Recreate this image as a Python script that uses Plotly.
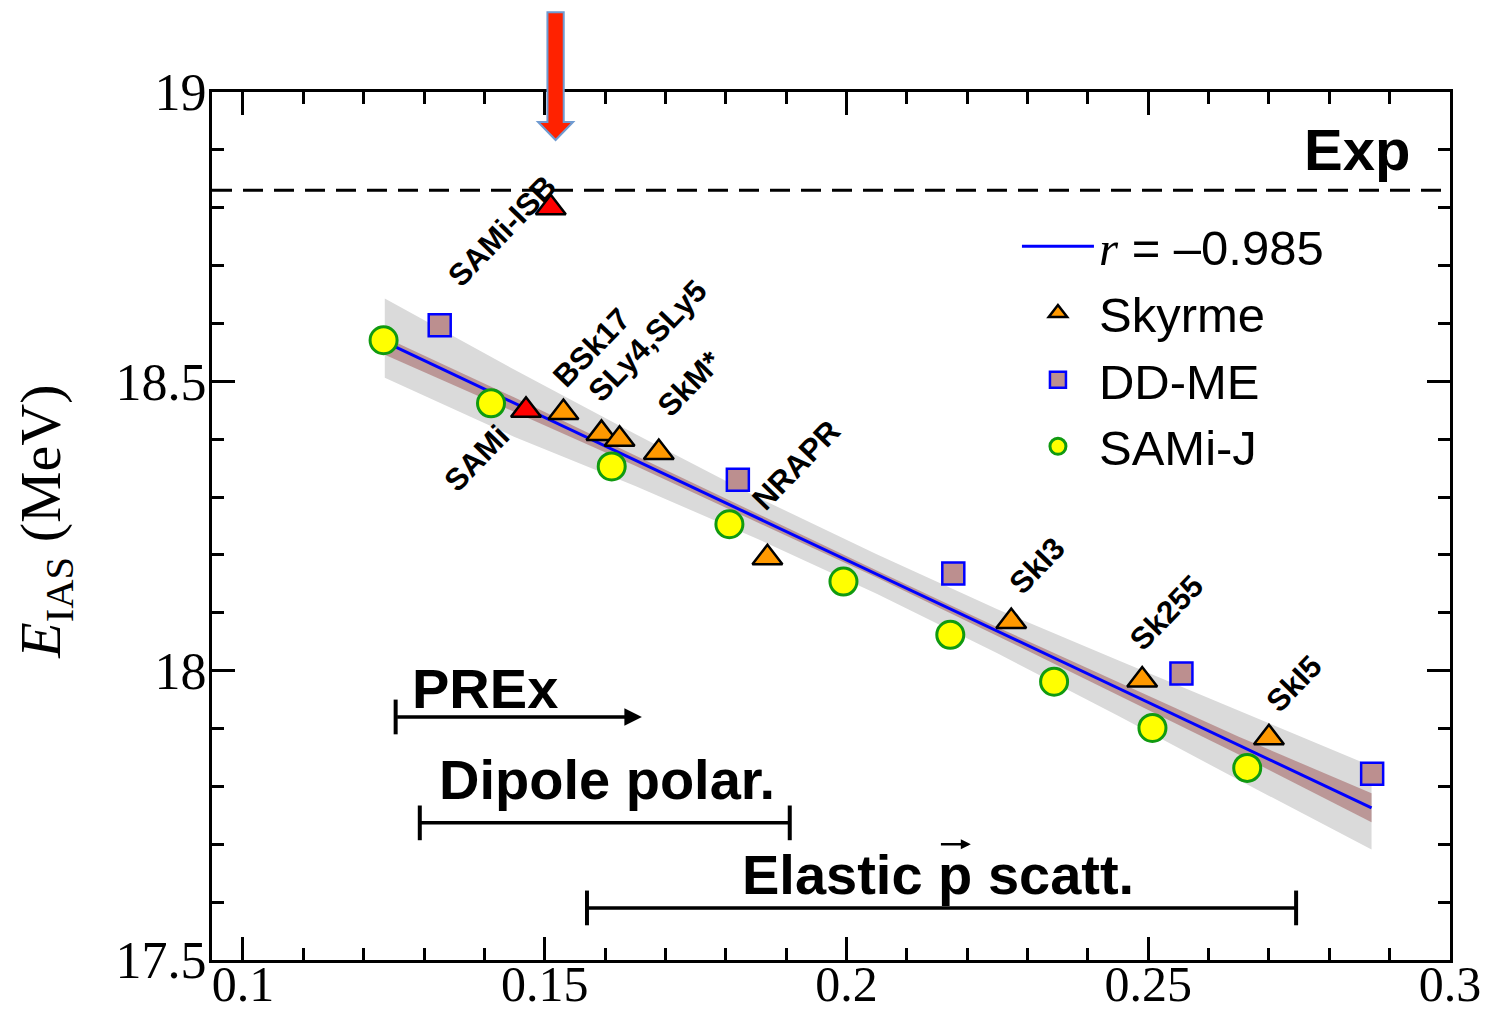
import plotly.graph_objects as go

# ---------------- data ----------------
skyrme_names = ["BSk17", "SLy4", "SLy5", "SkM*", "NRAPR", "SkI3", "Sk255", "SkI5", "SAMi", "SAMi-ISB"]
skyrme_x = [0.1531, 0.1594, 0.1624, 0.1689, 0.1869, 0.2273, 0.2490, 0.2700, 0.1469, 0.1510]
skyrme_y = [18.446, 18.410, 18.400, 18.377, 18.195, 18.085, 17.984, 17.884, 18.450, 18.800]
highlighted = ["SAMi-ISB", "SAMi"]

ddme_x = [0.1326, 0.1820, 0.2177, 0.2555, 0.2871]
ddme_y = [18.597, 18.330, 18.168, 17.995, 17.822]

samij_x = [0.1233, 0.1411, 0.1611, 0.1806, 0.1995, 0.2172, 0.2344, 0.2507, 0.2664]
samij_y = [18.571, 18.462, 18.353, 18.253, 18.154, 18.062, 17.981, 17.901, 17.832]

fit_x = [0.1235, 0.2870]
fit_y = [18.568, 17.763]

band_x = [0.1235, 0.145, 0.165, 0.185, 0.205, 0.225, 0.245, 0.265, 0.287]
gray_upper = [18.643, 18.520, 18.409, 18.301, 18.201, 18.106, 18.018, 17.931, 17.835]
gray_lower = [18.506, 18.404, 18.319, 18.229, 18.133, 18.030, 17.922, 17.811, 17.691]
brown_upper = [18.576, 18.472, 18.372, 18.272, 18.173, 18.075, 17.980, 17.886, 17.788]
brown_lower = [18.546, 18.447, 18.354, 18.258, 18.161, 18.060, 17.958, 17.855, 17.738]

exp_value = 18.83

range_names = ["PREx", "Dipole polar.", "Elastic p scatt."]
range_start = [0.1253, 0.1293, 0.1570]
range_end = [0.1661, 0.1906, 0.2745]
range_level = [17.920, 17.737, 17.590]
range_open = [True, False, False]

x_ticks = [0.1, 0.15, 0.2, 0.25, 0.3]
x_ticklabels = ["0.1", "0.15", "0.2", "0.25", "0.3"]
y_ticks = [17.5, 18, 18.5, 19]
y_ticklabels = ["17.5", "18", "18.5", "19"]

# label placement (centre of rotated text) for the named Skyrme points
label_pos = {
    "SAMi-ISB": (0.1430, 18.761),
    "SAMi": (0.1387, 18.367),
    "BSk17": (0.1578, 18.559),
    "SLy4,SLy5": (0.1671, 18.571),
    "SkM*": (0.1740, 18.497),
    "NRAPR": (0.1916, 18.355),
    "SkI3": (0.2316, 18.182),
    "Sk255": (0.2531, 18.100),
    "SkI5": (0.2742, 17.978),
}

SANS = "Liberation Sans, Arial, sans-serif"
SERIF = "Liberation Serif, Times New Roman, serif"

fig = go.Figure()

# gray band
fig.add_trace(go.Scatter(
    x=band_x + band_x[::-1], y=gray_upper + gray_lower[::-1],
    fill="toself", fillcolor="rgb(218,218,218)", line=dict(width=0),
    mode="lines", showlegend=False, hoverinfo="skip"))
# brown band
fig.add_trace(go.Scatter(
    x=band_x + band_x[::-1], y=brown_upper + brown_lower[::-1],
    fill="toself", fillcolor="rgba(176,128,128,0.75)", line=dict(width=0),
    mode="lines", showlegend=False, hoverinfo="skip"))
# fit line
fig.add_trace(go.Scatter(
    x=fit_x, y=fit_y, mode="lines", line=dict(color="#0000ff", width=3),
    name="<span style='font-family:Liberation Serif'><i>r</i></span> = \u20130.985",
    legendrank=1))

sky_colors = ["#ff0000" if n in highlighted else "#ff9900" for n in skyrme_names]
fig.add_trace(go.Scatter(
    x=skyrme_x, y=skyrme_y, mode="markers", name="Skyrme",
    marker=dict(symbol="triangle-up", size=26, color=sky_colors,
                line=dict(color="black", width=2.5)),
    legendrank=2))
fig.add_trace(go.Scatter(
    x=ddme_x, y=ddme_y, mode="markers", name="DD-ME",
    marker=dict(symbol="square", size=22, color="#bc8f8f",
                line=dict(color="#0000ff", width=2.5)),
    legendrank=3))
fig.add_trace(go.Scatter(
    x=samij_x, y=samij_y, mode="markers", name="SAMi-J",
    marker=dict(symbol="circle", size=27, color="#ffff00",
                line=dict(color="#109a10", width=3)),
    legendrank=4))

annotations = []
for lab, (lx, ly) in label_pos.items():
    annotations.append(dict(x=lx, y=ly, xref="x", yref="y", text="<b>%s</b>" % lab,
                            showarrow=False, textangle=-46,
                            font=dict(family=SANS, size=31, color="black")))

# Exp line and label
shapes = [dict(type="line", xref="paper", yref="y", x0=0, x1=1, y0=exp_value, y1=exp_value,
               line=dict(color="black", width=3, dash="20px,11px"))]
annotations.append(dict(x=0.2846, y=18.90, xref="x", yref="y", text="<b>Exp</b>",
                        showarrow=False, font=dict(family=SANS, size=58, color="black")))

# range bars
tick_half = 0.030
label_offset = [0.050, 0.075, 0.058]
label_x = [0.1401, 0.1603, 0.2152]
for name, xs, xe, yl, op, lo, lxp in zip(range_names, range_start, range_end, range_level,
                                         range_open, label_offset, label_x):
    shapes.append(dict(type="line", xref="x", yref="y", x0=xs, x1=xs,
                       y0=yl - tick_half, y1=yl + tick_half, line=dict(color="black", width=4)))
    if op:
        annotations.append(dict(x=xe, y=yl, ax=xs, ay=yl, xref="x", yref="y",
                                axref="x", ayref="y", text="", showarrow=True,
                                arrowhead=2, arrowsize=1, arrowwidth=3.5, arrowcolor="black"))
    else:
        shapes.append(dict(type="line", xref="x", yref="y", x0=xs, x1=xe,
                           y0=yl, y1=yl, line=dict(color="black", width=3.5)))
        shapes.append(dict(type="line", xref="x", yref="y", x0=xe, x1=xe,
                           y0=yl - tick_half, y1=yl + tick_half, line=dict(color="black", width=4)))
    annotations.append(dict(x=lxp, y=yl + lo, xref="x", yref="y", text="<b>%s</b>" % name,
                            showarrow=False, font=dict(family=SANS, size=56, color="black")))

# vector arrow over the "p" of "Elastic p scatt."
p_x, p_y, p_half = 0.2180, 17.700, 0.0026
annotations.append(dict(x=p_x + p_half, y=p_y, ax=p_x - p_half, ay=p_y, xref="x", yref="y",
                        axref="x", ayref="y", text="", showarrow=True,
                        arrowhead=2, arrowsize=0.8, arrowwidth=2.5, arrowcolor="black"))

# red arrow above the SAMi-ISB point
ax0 = 0.1518
hw, hh = 0.00135, 0.0029
y_top, y_neck, y_tip = 1.092, 0.9654, 0.9447
path = ("M {a},{t} L {b},{t} L {b},{n} L {c},{n} L {x},{p} L {d},{n} L {a},{n} Z"
        .format(a=ax0 - hw, b=ax0 + hw, c=ax0 + hh, d=ax0 - hh, x=ax0,
                t=y_top, n=y_neck, p=y_tip))
shapes.append(dict(type="path", xref="x", yref="paper", path=path,
                   fillcolor="#ff2200", line=dict(color="#6f9bd1", width=2)))

# y title
annotations.append(dict(x=-0.1349, y=0.505, xref="paper", yref="paper",
                        xanchor="center", yanchor="middle",
                        text="<i>E</i><sub>IAS</sub> (MeV)", textangle=-90, showarrow=False,
                        font=dict(family=SERIF, size=58, color="black")))

fig.update_layout(
    template="none",
    width=1486, height=1009,
    margin=dict(l=204, r=44, t=84, b=57, autoexpand=False),
    paper_bgcolor="white", plot_bgcolor="white",
    showlegend=True,
    legend=dict(x=0.6502, y=0.8665, xanchor="left", yanchor="top",
                font=dict(family=SANS, size=49, color="black"),
                bgcolor="rgba(0,0,0,0)", tracegroupgap=0, itemsizing="trace",
                itemwidth=72),
    shapes=shapes, annotations=annotations,
)
fig.update_xaxes(range=[0.09487, 0.3], tickvals=x_ticks, ticktext=x_ticklabels,
                 automargin=False, ticklabelstandoff=-22,
                 ticks="inside", ticklen=23, tickwidth=2.5, tickcolor="black",
                 minor=dict(dtick=0.01, tick0=0.1, ticks="inside", ticklen=12,
                            tickwidth=2.5, tickcolor="black"),
                 showline=True, linecolor="black", linewidth=3, mirror="ticks",
                 showgrid=False, zeroline=False,
                 tickfont=dict(family=SERIF, size=50, color="black"))
fig.update_yaxes(range=[17.5, 19], tickvals=y_ticks, ticktext=y_ticklabels,
                 automargin=False, ticklabelstandoff=-8,
                 ticks="inside", ticklen=23, tickwidth=2.5, tickcolor="black",
                 minor=dict(dtick=0.1, tick0=17.5, ticks="inside", ticklen=12,
                            tickwidth=2.5, tickcolor="black"),
                 showline=True, linecolor="black", linewidth=3, mirror="ticks",
                 showgrid=False, zeroline=False,
                 tickfont=dict(family=SERIF, size=52, color="black"))

fig.write_html("out.html")
